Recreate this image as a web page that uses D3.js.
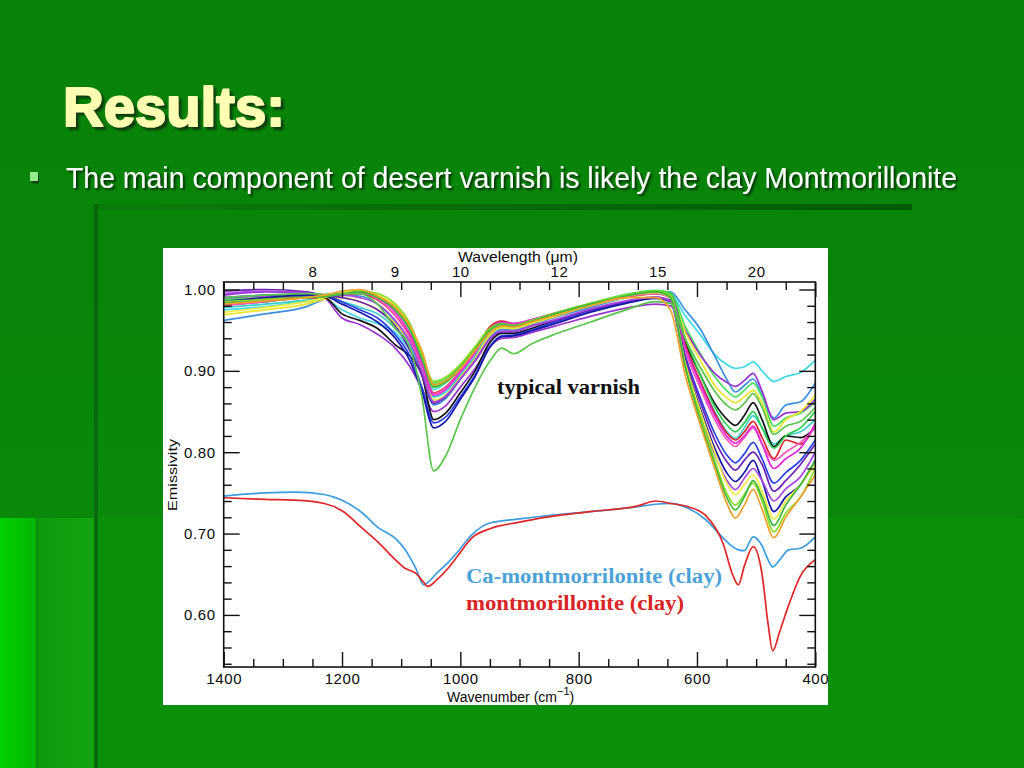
<!DOCTYPE html>
<html>
<head>
<meta charset="utf-8">
<script src="https://cdn.jsdelivr.net/npm/d3@7"></script>
<style>
  body { margin: 0; background: #0a870a; }
  svg { display: block; }
</style>
</head>
<body>
<div id="slide"></div>
<script>
// wavenumber grid (cm-1) for the varnish spectra
var wn = [1400, 1330, 1260, 1230, 1200, 1170, 1140, 1110, 1085, 1065, 1045, 1025, 1000, 975, 950, 930, 910, 880, 840, 780, 720, 670,
          645, 620, 595, 570, 550, 535, 520, 505, 490, 470, 450, 425, 400];

// typical varnish spectra (emissivity)
var vCyan      = [0.975, 0.979, 0.985, 0.988, 0.975, 0.965, 0.958, 0.947, 0.925, 0.900, 0.877, 0.885, 0.903, 0.926, 0.950, 0.957, 0.955, 0.962, 0.970, 0.982, 0.993, 0.998, 0.995, 0.968, 0.945, 0.920, 0.908, 0.903, 0.905, 0.911, 0.900, 0.887, 0.893, 0.898, 0.913];
var vSky       = [0.962, 0.970, 0.979, 0.988, 0.993, 0.992, 0.982, 0.960, 0.930, 0.895, 0.858, 0.866, 0.890, 0.915, 0.942, 0.951, 0.950, 0.957, 0.966, 0.978, 0.990, 0.997, 0.997, 0.975, 0.952, 0.918, 0.890, 0.874, 0.882, 0.890, 0.870, 0.842, 0.858, 0.862, 0.885];
var vPurple    = [0.993, 0.997, 0.996, 0.990, 0.965, 0.957, 0.945, 0.928, 0.905, 0.878, 0.850, 0.857, 0.880, 0.903, 0.930, 0.940, 0.941, 0.947, 0.955, 0.967, 0.977, 0.982, 0.980, 0.950, 0.920, 0.897, 0.886, 0.881, 0.888, 0.897, 0.875, 0.840, 0.848, 0.850, 0.865];
var vViolet    = [0.998, 1.000, 0.997, 0.993, 0.990, 0.985, 0.975, 0.955, 0.925, 0.895, 0.860, 0.868, 0.890, 0.912, 0.939, 0.948, 0.948, 0.955, 0.962, 0.975, 0.985, 0.990, 0.987, 0.916, 0.863, 0.815, 0.789, 0.778, 0.790, 0.800, 0.785, 0.752, 0.765, 0.785, 0.810];
var vBlack     = [0.981, 0.985, 0.990, 0.990, 0.970, 0.962, 0.952, 0.932, 0.918, 0.895, 0.840, 0.848, 0.873, 0.900, 0.935, 0.946, 0.946, 0.952, 0.962, 0.975, 0.985, 0.990, 0.986, 0.935, 0.896, 0.860, 0.841, 0.833, 0.845, 0.861, 0.840, 0.807, 0.820, 0.818, 0.830];
var vBlue      = [0.990, 0.993, 0.994, 0.993, 0.985, 0.975, 0.965, 0.944, 0.918, 0.880, 0.836, 0.843, 0.868, 0.895, 0.930, 0.943, 0.944, 0.950, 0.960, 0.973, 0.984, 0.990, 0.986, 0.919, 0.868, 0.823, 0.797, 0.787, 0.798, 0.812, 0.792, 0.762, 0.775, 0.790, 0.815];
var vNavy      = [0.985, 0.990, 0.993, 0.992, 0.982, 0.972, 0.960, 0.940, 0.912, 0.875, 0.830, 0.838, 0.865, 0.893, 0.929, 0.942, 0.943, 0.949, 0.958, 0.972, 0.983, 0.989, 0.985, 0.910, 0.855, 0.805, 0.775, 0.764, 0.775, 0.790, 0.765, 0.727, 0.745, 0.760, 0.790];
var vGreen     = [0.990, 0.993, 0.995, 0.994, 0.995, 0.995, 0.982, 0.952, 0.928, 0.868, 0.777, 0.795, 0.840, 0.880, 0.912, 0.928, 0.921, 0.933, 0.945, 0.960, 0.975, 0.985, 0.983, 0.940, 0.905, 0.875, 0.858, 0.852, 0.860, 0.872, 0.855, 0.822, 0.832, 0.838, 0.855];
var vLime      = [0.985, 0.988, 0.990, 0.992, 0.995, 0.998, 0.995, 0.982, 0.958, 0.920, 0.887, 0.892, 0.908, 0.930, 0.952, 0.958, 0.956, 0.962, 0.971, 0.983, 0.993, 0.998, 0.993, 0.907, 0.846, 0.790, 0.750, 0.735, 0.748, 0.762, 0.740, 0.702, 0.725, 0.745, 0.780];
var vYellow    = [0.969, 0.975, 0.982, 0.988, 0.990, 0.985, 0.975, 0.958, 0.935, 0.905, 0.864, 0.870, 0.892, 0.915, 0.944, 0.953, 0.952, 0.958, 0.967, 0.980, 0.990, 0.995, 0.992, 0.948, 0.914, 0.882, 0.867, 0.861, 0.868, 0.876, 0.860, 0.825, 0.840, 0.850, 0.870];
var vOrange    = [0.982, 0.986, 0.990, 0.993, 0.998, 1.000, 0.992, 0.978, 0.955, 0.925, 0.883, 0.888, 0.903, 0.925, 0.947, 0.955, 0.954, 0.960, 0.968, 0.980, 0.990, 0.990, 0.975, 0.895, 0.835, 0.780, 0.738, 0.719, 0.735, 0.754, 0.730, 0.695, 0.720, 0.745, 0.772];
var vMagenta   = [0.990, 0.992, 0.993, 0.992, 0.995, 0.997, 0.990, 0.972, 0.945, 0.910, 0.870, 0.877, 0.898, 0.922, 0.952, 0.960, 0.958, 0.963, 0.971, 0.982, 0.992, 0.996, 0.992, 0.930, 0.885, 0.845, 0.820, 0.811, 0.820, 0.832, 0.810, 0.780, 0.792, 0.805, 0.835];
var vPink      = [0.980, 0.985, 0.990, 0.991, 0.994, 0.996, 0.988, 0.968, 0.940, 0.905, 0.872, 0.879, 0.900, 0.924, 0.951, 0.958, 0.957, 0.962, 0.970, 0.981, 0.991, 0.995, 0.990, 0.925, 0.880, 0.840, 0.816, 0.807, 0.818, 0.830, 0.810, 0.790, 0.800, 0.812, 0.830];
var vRed       = [0.985, 0.988, 0.990, 0.990, 0.993, 0.995, 0.987, 0.968, 0.942, 0.908, 0.873, 0.880, 0.900, 0.925, 0.954, 0.961, 0.958, 0.962, 0.970, 0.982, 0.991, 0.995, 0.990, 0.932, 0.888, 0.848, 0.824, 0.815, 0.825, 0.838, 0.818, 0.792, 0.815, 0.810, 0.835];
var vSpring    = [0.988, 0.990, 0.992, 0.993, 0.994, 0.997, 0.993, 0.978, 0.952, 0.918, 0.885, 0.890, 0.906, 0.928, 0.951, 0.958, 0.956, 0.962, 0.971, 0.983, 0.994, 0.999, 0.996, 0.955, 0.922, 0.893, 0.876, 0.868, 0.876, 0.885, 0.868, 0.832, 0.842, 0.848, 0.862];
var vTeal      = [0.978, 0.982, 0.987, 0.990, 0.985, 0.978, 0.970, 0.952, 0.930, 0.900, 0.868, 0.874, 0.895, 0.918, 0.947, 0.955, 0.954, 0.960, 0.968, 0.980, 0.990, 0.995, 0.992, 0.930, 0.888, 0.850, 0.826, 0.817, 0.830, 0.845, 0.830, 0.810, 0.820, 0.825, 0.840];
var vGreen2    = [0.983, 0.986, 0.990, 0.991, 0.994, 0.997, 0.990, 0.975, 0.950, 0.915, 0.880, 0.886, 0.903, 0.926, 0.950, 0.957, 0.955, 0.961, 0.970, 0.982, 0.992, 0.997, 0.990, 0.905, 0.840, 0.785, 0.745, 0.729, 0.745, 0.765, 0.745, 0.710, 0.735, 0.760, 0.790];
var vMedGreen  = [0.986, 0.989, 0.991, 0.992, 0.993, 0.996, 0.991, 0.976, 0.950, 0.916, 0.882, 0.888, 0.905, 0.927, 0.950, 0.957, 0.955, 0.961, 0.970, 0.982, 0.993, 0.998, 0.995, 0.940, 0.896, 0.856, 0.834, 0.825, 0.836, 0.850, 0.830, 0.805, 0.820, 0.830, 0.850];
var vOrchid    = [0.995, 0.998, 0.996, 0.993, 0.993, 0.990, 0.982, 0.962, 0.935, 0.900, 0.862, 0.869, 0.890, 0.913, 0.940, 0.949, 0.949, 0.955, 0.963, 0.976, 0.986, 0.991, 0.985, 0.905, 0.848, 0.798, 0.766, 0.754, 0.768, 0.780, 0.765, 0.740, 0.755, 0.770, 0.800];
var vYellow2   = [0.972, 0.978, 0.985, 0.990, 0.996, 0.999, 0.993, 0.980, 0.955, 0.920, 0.880, 0.886, 0.903, 0.926, 0.950, 0.957, 0.955, 0.961, 0.969, 0.981, 0.992, 0.996, 0.990, 0.910, 0.852, 0.800, 0.762, 0.748, 0.760, 0.772, 0.752, 0.718, 0.740, 0.760, 0.785];

// clay spectra
var clayWn = [1400, 1330, 1280, 1230, 1200, 1165, 1140, 1110, 1095, 1075, 1062, 1055, 1040, 1020, 1005, 980, 950, 900, 865, 780, 700, 670,
              645, 615, 585, 555, 540, 530, 520, 505, 490, 480, 472, 460, 445, 425, 400];
var caMont = [0.746, 0.750, 0.751, 0.748, 0.741, 0.725, 0.708, 0.694, 0.682, 0.657, 0.637, 0.640, 0.651, 0.665, 0.677, 0.699, 0.713, 0.718, 0.721, 0.727, 0.733, 0.736,
              0.737, 0.731, 0.717, 0.694, 0.684, 0.680, 0.679, 0.696, 0.685, 0.668, 0.659, 0.668, 0.680, 0.682, 0.696];
var mont   = [0.744, 0.742, 0.741, 0.737, 0.728, 0.706, 0.690, 0.668, 0.658, 0.651, 0.640, 0.635, 0.643, 0.658, 0.672, 0.695, 0.706, 0.714, 0.719, 0.727, 0.734, 0.740,
              0.737, 0.733, 0.722, 0.686, 0.650, 0.637, 0.660, 0.684, 0.650, 0.590, 0.556, 0.580, 0.612, 0.648, 0.668];

var yMajor = [0.60, 0.70, 0.80, 0.90, 1.00];
var yMinor = [0.54, 0.56, 0.58, 0.62, 0.64, 0.66, 0.68, 0.72, 0.74, 0.76, 0.78, 0.82, 0.84, 0.86, 0.88, 0.92, 0.94, 0.96, 0.98];
var xMajor = [1400, 1200, 1000, 800, 600, 400];
var xMinor = [1350, 1300, 1250, 1150, 1100, 1050, 950, 900, 850, 750, 700, 650, 550, 500, 450];
var wavelengthTicks = [8, 9, 10, 12, 15, 20];

var varnish = [
  { name: "cyan", color: "#3ed8e6", v: vCyan },
  { name: "sky", color: "#3b8fdc", v: vSky },
  { name: "teal", color: "#36d0c8", v: vTeal },
  { name: "spring", color: "#46e060", v: vSpring },
  { name: "purple", color: "#9a34d0", v: vPurple },
  { name: "yellow", color: "#e8e62a", v: vYellow },
  { name: "black", color: "#141414", v: vBlack },
  { name: "medgreen", color: "#2ccc4c", v: vMedGreen },
  { name: "red", color: "#d82424", v: vRed },
  { name: "pink", color: "#ff55b8", v: vPink },
  { name: "magenta", color: "#e22ad8", v: vMagenta },
  { name: "blue", color: "#2a40e4", v: vBlue },
  { name: "violet", color: "#6d22b4", v: vViolet },
  { name: "navy", color: "#1818a8", v: vNavy },
  { name: "orchid", color: "#a646e0", v: vOrchid },
  { name: "yellow2", color: "#f2ec3c", v: vYellow2 },
  { name: "lime", color: "#86de24", v: vLime },
  { name: "green2", color: "#3cb83c", v: vGreen2 },
  { name: "green", color: "#5ac44c", v: vGreen },
  { name: "orange", color: "#f2a02a", v: vOrange }
];
var clays = [
  { name: "Ca-montmorrilonite (clay)", color: "#3c9ce0", v: caMont },
  { name: "montmorillonite (clay)", color: "#e02626", v: mont }
];

var W = 1024, H = 768;
var svg = d3.select("#slide").append("svg").attr("width", W).attr("height", H);
var defs = svg.append("defs");

// ---- slide background ----
var bg = defs.append("linearGradient").attr("id", "bg").attr("x1", 0).attr("y1", 0).attr("x2", 0).attr("y2", 1);
bg.append("stop").attr("offset", 0).attr("stop-color", "#088208");
bg.append("stop").attr("offset", 1).attr("stop-color", "#0a8c0a");
var bar = defs.append("linearGradient").attr("id", "bar");
bar.append("stop").attr("offset", 0).attr("stop-color", "#0a7c0a");
bar.append("stop").attr("offset", 1).attr("stop-color", "#045a04");
var strip = defs.append("linearGradient").attr("id", "strip");
strip.append("stop").attr("offset", 0).attr("stop-color", "#00d000");
strip.append("stop").attr("offset", 1).attr("stop-color", "#04b404");
var strip2 = defs.append("linearGradient").attr("id", "strip2");
strip2.append("stop").attr("offset", 0).attr("stop-color", "#0c9a0c");
strip2.append("stop").attr("offset", 1).attr("stop-color", "#14a614");

// text shadows
defs.append("filter").attr("id", "shadow").attr("x", "-5%").attr("y", "-20%").attr("width", "115%").attr("height", "150%")
  .append("feDropShadow").attr("dx", 3).attr("dy", 3).attr("stdDeviation", 1)
  .attr("flood-color", "#0a2a0a").attr("flood-opacity", 0.8);
defs.append("filter").attr("id", "shadowSm").attr("x", "-5%").attr("y", "-20%").attr("width", "115%").attr("height", "150%")
  .append("feDropShadow").attr("dx", 2).attr("dy", 2).attr("stdDeviation", 0.8)
  .attr("flood-color", "#051a05").attr("flood-opacity", 0.85);

svg.append("rect").attr("width", W).attr("height", H).attr("fill", "url(#bg)");
svg.append("rect").attr("x", 98).attr("y", 518).attr("width", W - 98).attr("height", H - 518).attr("fill", "#0a900a");
svg.append("rect").attr("x", 0).attr("y", 518).attr("width", 37).attr("height", H - 518).attr("fill", "url(#strip)");
svg.append("rect").attr("x", 37).attr("y", 518).attr("width", 58).attr("height", H - 518).attr("fill", "url(#strip2)");
svg.append("rect").attr("x", 36).attr("y", 518).attr("width", 2).attr("height", H - 518).attr("fill", "#0a8a0a");
svg.append("rect").attr("x", 95).attr("y", 204).attr("width", 817).attr("height", 6).attr("fill", "url(#bar)");
svg.append("rect").attr("x", 94).attr("y", 204).attr("width", 4).attr("height", H - 204).attr("fill", "#066a06");

// ---- title and bullet ----
svg.append("text").attr("x", 63).attr("y", 126)
  .attr("textLength", 222).attr("lengthAdjust", "spacingAndGlyphs")
  .style("font", "bold 56px 'Liberation Sans', Arial, sans-serif")
  .attr("fill", "#ffffb4").attr("stroke", "#ffffb4").attr("stroke-width", 2).attr("stroke-linejoin", "round")
  .attr("filter", "url(#shadow)").text("Results:");

svg.append("rect").attr("x", 30).attr("y", 172).attr("width", 8).attr("height", 9).attr("fill", "#96ec8c")
  .attr("filter", "url(#shadowSm)");

var bullet = "The main component of desert varnish is likely the clay Montmorillonite";
svg.append("text").attr("x", 66).attr("y", 188)
  .attr("textLength", 891).attr("lengthAdjust", "spacingAndGlyphs")
  .style("font", "30px 'Liberation Sans', Arial, sans-serif")
  .attr("fill", "#ffffff").attr("filter", "url(#shadowSm)").text(bullet);

// ---- chart panel ----
defs.append("clipPath").attr("id", "panel").append("rect")
  .attr("x", 163).attr("y", 248).attr("width", 665).attr("height", 457);

var chart = svg.append("g").attr("clip-path", "url(#panel)");
chart.append("rect").attr("x", 163).attr("y", 248).attr("width", 665).attr("height", 457).attr("fill", "#ffffff");

var pLeft = 223.7, pRight = 815.3, pTop = 282, pBottom = 667;
var x = d3.scaleLinear().domain([1400, 400]).range([pLeft, pRight]);
var y = d3.scaleLinear().domain([1.0092, 0.536]).range([pTop, pBottom]);

defs.append("clipPath").attr("id", "plot").append("rect")
  .attr("x", pLeft).attr("y", pTop).attr("width", pRight - pLeft).attr("height", pBottom - pTop);

var plot = chart.append("g").attr("clip-path", "url(#plot)");

var line = d3.line().curve(d3.curveMonotoneX);

varnish.forEach(function(s) {
  plot.append("path")
    .attr("d", line(wn.map(function(w, i) { return [x(w), y(s.v[i])]; })))
    .attr("fill", "none")
    .attr("stroke", s.color)
    .attr("stroke-width", 1.7)
    .attr("stroke-linejoin", "round");
});

clays.forEach(function(s) {
  plot.append("path")
    .attr("d", line(clayWn.map(function(w, i) { return [x(w), y(s.v[i])]; })))
    .attr("fill", "none")
    .attr("stroke", s.color)
    .attr("stroke-width", 1.7)
    .attr("stroke-linejoin", "round");
});

// ---- axes ----
var axisFont = "15px 'Liberation Sans', Arial, sans-serif";

function styleAxis(g) {
  g.select(".domain").remove();
  g.selectAll(".tick line").attr("stroke", "#111").attr("stroke-width", 1.4);
  g.selectAll(".tick text").style("font", axisFont).attr("fill", "#0a0a0a").style("letter-spacing", "0.6px");
}

chart.append("g").attr("transform", "translate(0," + pBottom + ")")
  .call(d3.axisBottom(x).tickValues(xMajor).tickFormat(d3.format("d")).tickSizeInner(-15).tickSizeOuter(0).tickPadding(6))
  .call(styleAxis);
chart.append("g").attr("transform", "translate(0," + pBottom + ")")
  .call(d3.axisBottom(x).tickValues(xMinor).tickFormat("").tickSizeInner(-8).tickSizeOuter(0))
  .call(styleAxis);

chart.append("g").attr("transform", "translate(0," + pTop + ")")
  .call(d3.axisTop(x).tickValues(xMajor).tickFormat("").tickSizeInner(-15).tickSizeOuter(0))
  .call(styleAxis);
chart.append("g").attr("transform", "translate(0," + pTop + ")")
  .call(d3.axisTop(x).tickValues(xMinor).tickFormat("").tickSizeInner(-8).tickSizeOuter(0))
  .call(styleAxis);
// wavelength labels along the top (um -> cm-1)
chart.append("g").attr("transform", "translate(0," + pTop + ")")
  .call(d3.axisTop(x).tickValues(wavelengthTicks.map(function(l) { return 10000 / l; }))
    .tickFormat(function(v) { return String(Math.round(10000 / v)); })
    .tickSize(0).tickPadding(5))
  .call(styleAxis);

chart.append("g").attr("transform", "translate(" + pLeft + ",0)")
  .call(d3.axisLeft(y).tickValues(yMajor).tickFormat(d3.format(".2f")).tickSizeInner(-16).tickSizeOuter(0).tickPadding(8))
  .call(styleAxis);
chart.append("g").attr("transform", "translate(" + pLeft + ",0)")
  .call(d3.axisLeft(y).tickValues(yMinor).tickFormat("").tickSizeInner(-8).tickSizeOuter(0))
  .call(styleAxis);
chart.append("g").attr("transform", "translate(" + pRight + ",0)")
  .call(d3.axisRight(y).tickValues(yMajor).tickFormat("").tickSizeInner(-16).tickSizeOuter(0))
  .call(styleAxis);
chart.append("g").attr("transform", "translate(" + pRight + ",0)")
  .call(d3.axisRight(y).tickValues(yMinor).tickFormat("").tickSizeInner(-8).tickSizeOuter(0))
  .call(styleAxis);

chart.append("rect").attr("x", pLeft).attr("y", pTop).attr("width", pRight - pLeft).attr("height", pBottom - pTop)
  .attr("fill", "none").attr("stroke", "#111").attr("stroke-width", 1.6);

// axis titles
chart.append("text").attr("x", 518).attr("y", 262).attr("text-anchor", "middle")
  .attr("textLength", 120).attr("lengthAdjust", "spacingAndGlyphs")
  .style("font", "14px 'Liberation Sans', Arial, sans-serif").attr("fill", "#0a0a0a")
  .text("Wavelength (\u03bcm)");

var xt = chart.append("text").attr("x", 447).attr("y", 702)
  .style("font", "14px 'Liberation Sans', Arial, sans-serif").attr("fill", "#0a0a0a");
xt.append("tspan").text("Wavenumber (cm");
xt.append("tspan").attr("dy", -7).style("font-size", "11px").text("\u22121");
xt.append("tspan").attr("dy", 7).text(")");

chart.append("text").attr("transform", "translate(177,475) rotate(-90)").attr("text-anchor", "middle")
  .attr("textLength", 72).attr("lengthAdjust", "spacingAndGlyphs")
  .style("font", "13px 'Liberation Sans', Arial, sans-serif").attr("fill", "#0a0a0a")
  .text("Emissivity");

// in-plot labels
chart.append("text").attr("x", 497).attr("y", 394)
  .attr("textLength", 143).attr("lengthAdjust", "spacingAndGlyphs")
  .style("font", "bold 21px 'Liberation Serif', 'Times New Roman', serif").attr("fill", "#111")
  .text("typical varnish");
chart.append("text").attr("x", 466).attr("y", 583)
  .attr("textLength", 256).attr("lengthAdjust", "spacingAndGlyphs")
  .style("font", "bold 20px 'Liberation Serif', 'Times New Roman', serif").attr("fill", "#4ca2d8")
  .text(clays[0].name);
chart.append("text").attr("x", 466).attr("y", 610)
  .attr("textLength", 218).attr("lengthAdjust", "spacingAndGlyphs")
  .style("font", "bold 20px 'Liberation Serif', 'Times New Roman', serif").attr("fill", "#d82424")
  .text(clays[1].name);
</script>
</body>
</html>
